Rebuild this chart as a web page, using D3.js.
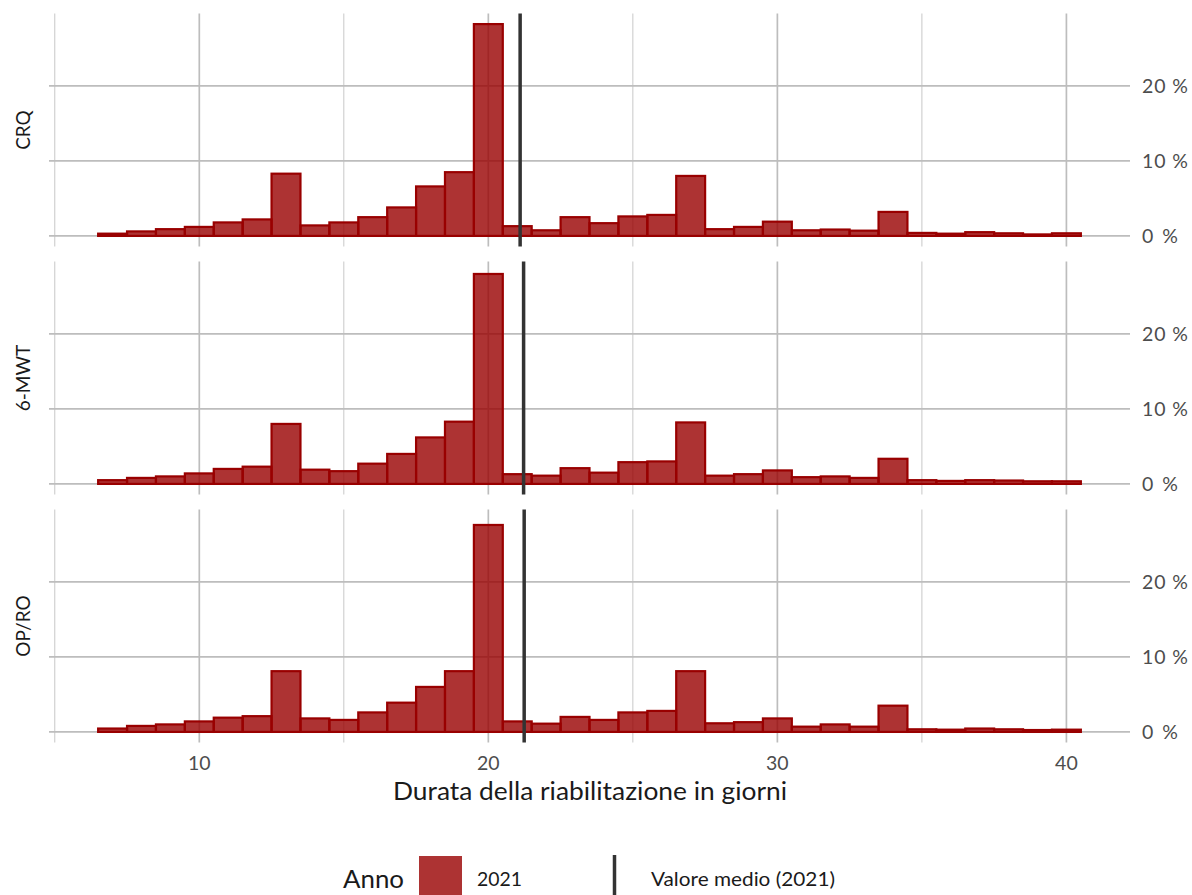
<!DOCTYPE html>
<html>
<head>
<meta charset="utf-8">
<script src="https://cdn.jsdelivr.net/npm/d3@7"></script>
<style>
  html, body { margin: 0; padding: 0; background: #fff; }
  svg { display: block; }
  text { font-family: Lato, "Open Sans", sans-serif; }
</style>
</head>
<body>
<svg id="chart" width="1192" height="895"></svg>
<script>
// ---- data ----
const bins = [7,8,9,10,11,12,13,14,15,16,17,18,19,20,21,22,23,24,25,26,27,28,29,30,31,32,33,34,35,36,37,38,39,40];
const facets = ["CRQ", "6-MWT", "OP/RO"];
const crq  = [0.3,0.6,0.9,1.2,1.8,2.2,8.3,1.4,1.8,2.5,3.8,6.6,8.5,28.25,1.3,0.75,2.5,1.7,2.6,2.8,8.0,0.9,1.2,1.9,0.75,0.85,0.7,3.2,0.4,0.3,0.5,0.35,0.2,0.35];
const mwt  = [0.5,0.8,1.0,1.4,2.0,2.3,8.0,1.9,1.7,2.7,4.0,6.2,8.3,28.0,1.3,1.1,2.1,1.5,2.9,3.0,8.2,1.1,1.3,1.8,0.9,1.0,0.8,3.35,0.5,0.4,0.5,0.45,0.35,0.35];
const opro = [0.45,0.8,1.0,1.4,1.9,2.1,8.1,1.8,1.6,2.6,3.9,6.0,8.1,27.6,1.4,1.1,2.0,1.6,2.6,2.8,8.1,1.15,1.3,1.8,0.7,1.0,0.7,3.5,0.35,0.3,0.45,0.35,0.25,0.3];
const means = [21.1, 21.22, 21.24];
const xMajorTicks = [10, 20, 30, 40];
const xMinorTicks = [5, 15, 25, 35];
const yTicks = [0, 10, 20];
const xTitle = "Durata della riabilitazione in giorni";
const legendTitle = "Anno";
const legendYear = "2021";
const legendMean = "Valore medio (2021)";

const series = [crq, mwt, opro];

// ---- layout ----
const svg = d3.select("#chart");
const panelLeft = 49, panelRight = 1130;
const panelTops = [13.5, 261.5, 509.5];
const panelH = 233;
const barColor = "#990000";

const binLo = d3.min(bins) - 0.5, binHi = d3.max(bins) + 0.5;
const xPad = (binHi - binLo) * 0.05;
const x = d3.scaleLinear().domain([binLo - xPad, binHi + xPad]).range([panelLeft, panelRight]);

const yMax = d3.max(series.flat());
const yDomain = [-0.05 * yMax, 1.05 * yMax];

facets.forEach((name, i) => {
  const top = panelTops[i];
  const y = d3.scaleLinear().domain(yDomain).range([top + panelH, top]);
  const g = svg.append("g");

  g.selectAll(".vmin").data(xMinorTicks).enter().append("line")
    .attr("x1", d => x(d)).attr("x2", d => x(d))
    .attr("y1", top).attr("y2", top + panelH)
    .attr("stroke", "#c8c8c8").attr("stroke-width", 1);
  g.selectAll(".vmaj").data(xMajorTicks).enter().append("line")
    .attr("x1", d => x(d)).attr("x2", d => x(d))
    .attr("y1", top).attr("y2", top + panelH)
    .attr("stroke", "#bdbdbd").attr("stroke-width", 1.7);
  g.selectAll(".hmaj").data(yTicks).enter().append("line")
    .attr("x1", panelLeft).attr("x2", panelRight)
    .attr("y1", d => y(d)).attr("y2", d => y(d))
    .attr("stroke", "#bdbdbd").attr("stroke-width", 1.7);

  g.selectAll(".bar").data(bins.map((b, j) => ({b, v: series[i][j]}))).enter().append("rect")
    .attr("x", d => x(d.b - 0.5))
    .attr("width", d => x(d.b + 0.5) - x(d.b - 0.5))
    .attr("y", d => y(d.v))
    .attr("height", d => y(0) - y(d.v))
    .attr("fill", barColor).attr("fill-opacity", 0.8)
    .attr("stroke", barColor).attr("stroke-width", 2.2);

  g.append("line")
    .attr("x1", x(means[i])).attr("x2", x(means[i]))
    .attr("y1", top).attr("y2", top + panelH)
    .attr("stroke", "#333333").attr("stroke-width", 3.5);

  g.selectAll(".ylab").data(yTicks).enter().append("text")
    .attr("x", 1142).attr("y", d => y(d))
    .attr("dy", "0.35em")
    .attr("font-size", 19.5).attr("fill", "#4d4d4d")
    .attr("textLength", d => d === 0 ? 36 : 46).attr("lengthAdjust", "spacing")
    .text(d => d + " %");

  g.append("text")
    .attr("transform", `translate(${30},${top + panelH / 2}) rotate(-90)`)
    .attr("text-anchor", "middle")
    .attr("font-size", 19).attr("fill", "#1a1a1a")
    .text(name);
});

svg.selectAll(".xlab").data(xMajorTicks).enter().append("text")
  .attr("x", d => x(d)).attr("y", 763)
  .attr("dy", "0.35em").attr("text-anchor", "middle")
  .attr("font-size", 19.5).attr("fill", "#4d4d4d")
  .text(d => d);

svg.append("text")
  .attr("x", 590).attr("y", 800)
  .attr("text-anchor", "middle")
  .attr("font-size", 25.5).attr("fill", "#1a1a1a")
  .attr("textLength", 394).attr("lengthAdjust", "spacingAndGlyphs")
  .text(xTitle);

const lg = svg.append("g");
lg.append("text").attr("x", 343).attr("y", 888)
  .attr("font-size", 25).attr("fill", "#1a1a1a")
  .attr("textLength", 61).attr("lengthAdjust", "spacingAndGlyphs")
  .text(legendTitle);
lg.append("rect").attr("x", 419).attr("y", 856).attr("width", 43).attr("height", 43)
  .attr("fill", barColor).attr("fill-opacity", 0.8);
lg.append("text").attr("x", 477).attr("y", 886)
  .attr("font-size", 20).attr("fill", "#1a1a1a")
  .attr("textLength", 45).attr("lengthAdjust", "spacingAndGlyphs")
  .text(legendYear);
lg.append("line").attr("x1", 614.5).attr("x2", 614.5).attr("y1", 855).attr("y2", 900)
  .attr("stroke", "#333333").attr("stroke-width", 3.5);
lg.append("text").attr("x", 651).attr("y", 886)
  .attr("font-size", 20).attr("fill", "#1a1a1a")
  .attr("textLength", 184).attr("lengthAdjust", "spacingAndGlyphs")
  .text(legendMean);
</script>
</body>
</html>
